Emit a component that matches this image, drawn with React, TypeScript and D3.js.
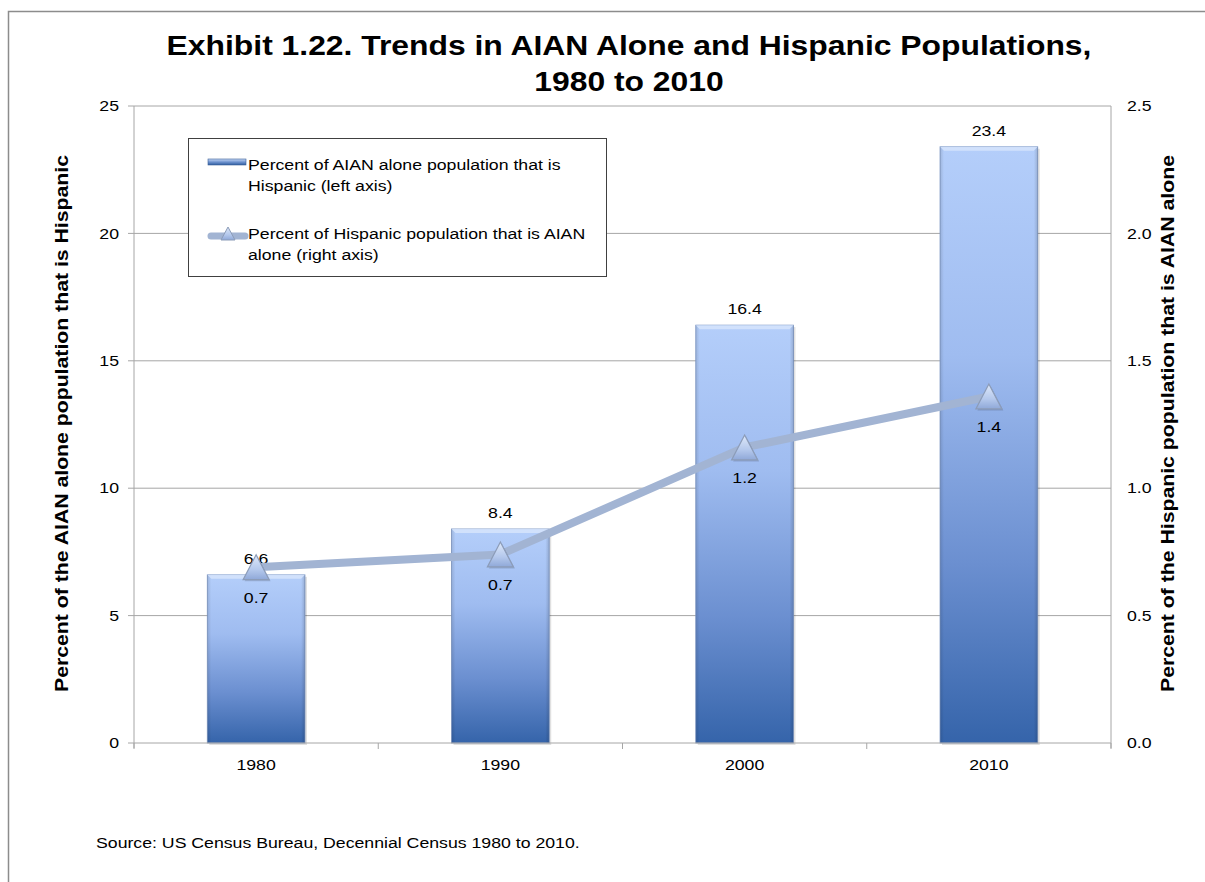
import React from "react";
import * as d3 from "d3";

const years = ["1980", "1990", "2000", "2010"];
const barValues = [6.6, 8.4, 16.4, 23.4];
const lineValues = [0.69, 0.74, 1.16, 1.36];
const leftTicks = [0, 5, 10, 15, 20, 25];
const rightTicks = [0, 0.5, 1.0, 1.5, 2.0, 2.5];

const W = 1205;
const H = 882;
const M = { left: 134, right: 1111, top: 106, bottom: 743 };
const FONT = "'Liberation Sans', Arial, sans-serif";
const SX = 1.18;

type TProps = {
  x: number;
  y: number;
  size: number;
  anchor?: "start" | "middle" | "end";
  bold?: boolean;
  rotate?: number;
  dy?: string;
  children: React.ReactNode;
};

function T({ x, y, size, anchor = "start", bold = false, rotate = 0, dy, children }: TProps) {
  return (
    <text
      transform={`translate(${x},${y})${rotate ? ` rotate(${rotate})` : ""} scale(${SX},1)`}
      textAnchor={anchor}
      fontSize={size}
      fontWeight={bold ? "bold" : "normal"}
      dy={dy}
      fill="#000"
    >
      {children}
    </text>
  );
}

export default function App() {
  const x = d3
    .scaleBand<string>()
    .domain(years)
    .range([M.left, M.right])
    .paddingInner(0.6)
    .paddingOuter(0.3);
  const yL = d3.scaleLinear().domain([0, 25]).range([M.bottom, M.top]);
  const yR = d3.scaleLinear().domain([0, 2.5]).range([M.bottom, M.top]);
  const step = x.step();
  const bw = x.bandwidth();
  const cx = (d: string) => (x(d) as number) + bw / 2;
  const f1 = d3.format(".1f");

  const linePts: [number, number][] = years.map((d, i) => [cx(d), yR(lineValues[i])]);
  const lineGen = d3.line();

  const tri = (px: number, py: number, w: number, h: number) =>
    `M${px},${py - h / 2} L${px + w / 2},${py + h / 2} L${px - w / 2},${py + h / 2} Z`;

  const catTicks = d3.range(years.length + 1).map((i) => M.left + i * step);

  return (
    <svg
      width={W}
      height={H}
      style={{ position: "absolute", left: 0, top: 0, background: "#fff" }}
      fontFamily={FONT}
    >
      <defs>
        <linearGradient id="barGrad" x1="0" y1="0" x2="0" y2="1">
          <stop offset="0" stopColor="#b4cefa" />
          <stop offset="0.35" stopColor="#9fbcf0" />
          <stop offset="0.7" stopColor="#6b8fd0" />
          <stop offset="1" stopColor="#3564aa" />
        </linearGradient>
        <linearGradient id="barSide" x1="0" y1="0" x2="1" y2="0">
          <stop offset="0" stopColor="#000" stopOpacity="0.12" />
          <stop offset="0.04" stopColor="#000" stopOpacity="0" />
          <stop offset="0.96" stopColor="#000" stopOpacity="0" />
          <stop offset="1" stopColor="#000" stopOpacity="0.15" />
        </linearGradient>
        <linearGradient id="triGrad" x1="0" y1="0" x2="0" y2="1">
          <stop offset="0" stopColor="#dfe9f9" />
          <stop offset="0.6" stopColor="#b4c8ec" />
          <stop offset="1" stopColor="#8fa8d8" />
        </linearGradient>
        <linearGradient id="legBar" x1="0" y1="0" x2="0" y2="1">
          <stop offset="0" stopColor="#c7d9f7" />
          <stop offset="0.5" stopColor="#6f93cf" />
          <stop offset="1" stopColor="#2f5d9f" />
        </linearGradient>
      </defs>

      {/* outer frame */}
      <path d={`M8.5,${H} L8.5,11.5 L${W},11.5`} fill="none" stroke="#8c8c8c" strokeWidth={1.5} />

      {/* title */}
      <T x={629} y={55} size={27} anchor="middle" bold>
        Exhibit 1.22. Trends in AIAN Alone and Hispanic Populations,
      </T>
      <T x={629} y={91} size={27} anchor="middle" bold>
        1980 to 2010
      </T>

      {/* gridlines */}
      {leftTicks.slice(1).map((t) => (
        <line key={t} x1={M.left} x2={M.right} y1={yL(t)} y2={yL(t)} stroke="#a6a6a6" strokeWidth={1} />
      ))}

      {/* left axis */}
      <line x1={M.left} x2={M.left} y1={M.top} y2={M.bottom + 5} stroke="#a6a6a6" />
      {leftTicks.map((t) => (
        <g key={t}>
          <line x1={M.left - 6} x2={M.left} y1={yL(t)} y2={yL(t)} stroke="#a6a6a6" />
          <T x={119} y={yL(t)} dy="0.35em" size={15} anchor="end">
            {t}
          </T>
        </g>
      ))}

      {/* right axis */}
      <line x1={M.right} x2={M.right} y1={M.top} y2={M.bottom + 5} stroke="#a6a6a6" />
      {rightTicks.map((t) => (
        <T key={t} x={1127} y={yR(t)} dy="0.35em" size={15}>
          {f1(t)}
        </T>
      ))}

      {/* bars */}
      {years.map((d, i) => {
        const bx = x(d) as number;
        const by = yL(barValues[i]);
        const bh = M.bottom - by;
        return (
          <g key={d}>
            <rect x={bx + 2} y={by + 2} width={bw} height={bh} fill="#000" opacity={0.12} />
            <rect x={bx} y={by} width={bw} height={bh} fill="url(#barGrad)" stroke="#7d97c4" strokeWidth={0.8} />
            <rect x={bx} y={by} width={bw} height={bh} fill="url(#barSide)" />
            <path
              d={`M${bx},${by} L${bx + bw},${by} L${bx + bw - 4},${by + 4} L${bx + 4},${by + 4} Z`}
              fill="#d6e4fc"
              opacity={0.85}
            />
          </g>
        );
      })}

      {/* bottom axis */}
      <line x1={M.left} x2={M.right} y1={M.bottom} y2={M.bottom} stroke="#a6a6a6" />
      {catTicks.map((t, i) => (
        <line key={i} x1={t} x2={t} y1={M.bottom} y2={M.bottom + 6} stroke="#a6a6a6" />
      ))}
      {years.map((d) => (
        <T key={d} x={cx(d)} y={770} size={15} anchor="middle">
          {d}
        </T>
      ))}

      {/* bar labels */}
      {years.map((d, i) => (
        <T key={d} x={cx(d)} y={yL(barValues[i]) - 11} size={15} anchor="middle">
          {f1(barValues[i])}
        </T>
      ))}

      {/* line */}
      <path d={lineGen(linePts) || ""} fill="none" stroke="#a2b4d3" strokeWidth={8} />
      {linePts.map(([px, py], i) => (
        <g key={i}>
          <path d={tri(px + 1.5, py + 1.5, 26, 25)} fill="#000" opacity={0.15} />
          <path d={tri(px, py, 26, 25)} fill="url(#triGrad)" stroke="#8c9cb8" strokeWidth={1.2} />
        </g>
      ))}
      {linePts.map(([px, py], i) => (
        <T key={i} x={px} y={py + 36} size={15} anchor="middle">
          {f1(lineValues[i])}
        </T>
      ))}

      {/* legend */}
      <rect x={188.5} y={138.5} width={418} height={138} fill="#fff" stroke="#404040" strokeWidth={1} />
      <rect x={208} y={159} width={38} height={6} fill="url(#legBar)" stroke="#3a5f96" strokeWidth={0.6} />
      <T x={248} y={169.5} size={15}>Percent of AIAN alone population that is</T>
      <T x={248} y={191} size={15}>Hispanic (left axis)</T>
      <line x1={211} x2={245} y1={236} y2={236} stroke="#a2b4d3" strokeWidth={7} strokeLinecap="round" />
      <path d={tri(228, 233.5, 14, 13)} fill="url(#triGrad)" stroke="#8c9cb8" strokeWidth={1} />
      <T x={248} y={238.5} size={15}>Percent of Hispanic population that is AIAN</T>
      <T x={248} y={260} size={15}>alone (right axis)</T>

      {/* axis titles */}
      <T x={68} y={(M.top + M.bottom) / 2 - 1} size={18} anchor="middle" bold rotate={-90}>
        Percent of the AIAN alone population that is Hispanic
      </T>
      <T x={1174} y={(M.top + M.bottom) / 2 - 1} size={18} anchor="middle" bold rotate={-90}>
        Percent of the Hispanic population that is AIAN alone
      </T>

      {/* source */}
      <T x={96} y={848} size={15}>
        Source: US Census Bureau, Decennial Census 1980 to 2010.
      </T>
    </svg>
  );
}
